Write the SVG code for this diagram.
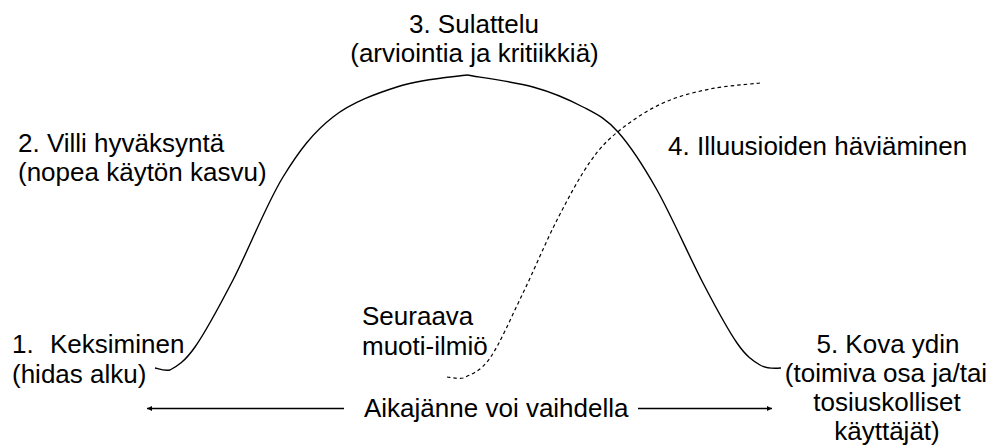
<svg xmlns="http://www.w3.org/2000/svg" width="993" height="447" viewBox="0 0 993 447">
<style>
text { font-family: "Liberation Sans", Arial, sans-serif; font-size: 26px; fill: #000; }
.c { text-anchor: middle; }
.curve { fill: none; stroke: #000; stroke-width: 1.4; }
.dash { fill: none; stroke: #000; stroke-width: 1.2; stroke-dasharray: 3.5 3; }
.arrow { stroke: #000; stroke-width: 1.4; fill: none; }
</style>
<defs>
<marker id="ah" viewBox="0 0 10 10" refX="10" refY="5" markerWidth="7" markerHeight="5" orient="auto-start-reverse" markerUnits="userSpaceOnUse">
<path d="M0,0 L10,5 L0,10 z" fill="#000"/>
</marker>
</defs>
<rect width="993" height="447" fill="#fff"/>
<g id="connectors">
<path id="hype-curve-rise" class="curve" d="M155,368 C157.5,368.3 163,371 170,370 C176.7,366.5 184.5,362 195,347 C205.5,332 218.3,308.3 233,280 C247.7,251.7 266.3,204.2 283,177 C299.7,149.8 313.5,132.2 333,117 C352.5,101.8 377.7,93 400,86 C422.3,79 455.8,76.8 467,75"/>
<path id="hype-curve-fall" class="curve" d="M467,75 C478,77 513.7,81.7 533,87 C552.3,92.3 568.8,99.5 583,107 C597.2,114.5 605.7,118.2 618,132 C630.3,145.8 642.8,164.8 657,190 C671.2,215.2 689.7,257.5 703,283 C716.3,308.5 727.5,329.3 737,343 C746.5,356.7 752.8,360.7 760,365 C767.2,369.3 776.7,368.3 781,368"/>
<path id="next-trend" class="dash" d="M447,377 C449.7,377.2 456,379 463,378 C470.2,374.8 480,372.2 490,358 C500,343.8 511.8,316 523,293 C534.2,270 545.8,241.8 557,220 C568.2,198.2 579.5,177 590,162 C600.5,147 607.8,139.8 620,130 C632.2,120.2 648,109.8 663,103 C678,96.2 693.8,92.3 710,89 C726.2,85.7 751.7,84 760,83"/>
<line class="arrow" x1="344" y1="408.5" x2="147" y2="408.5" marker-end="url(#ah)"/>
<line class="arrow" x1="638" y1="408.5" x2="772" y2="408.5" marker-end="url(#ah)"/>
</g>
<g id="stage1">
<text x="12" y="353">1.<tspan x="50">Keksiminen</tspan></text>
<text x="12" y="383">(hidas alku)</text>
</g>
<g id="stage2">
<text x="18" y="152">2. Villi hyväksyntä</text>
<text x="18" y="181">(nopea käytön kasvu)</text>
</g>
<g id="stage3">
<text class="c" x="474" y="33">3. Sulattelu</text>
<text class="c" x="474.5" y="62">(arviointia ja kritiikkiä)</text>
</g>
<g id="stage4">
<text x="668" y="155">4. Illuusioiden häviäminen</text>
</g>
<g id="stage5">
<text class="c" x="888" y="352.5">5. Kova ydin</text>
<text class="c" x="886" y="381.5">(toimiva osa ja/tai</text>
<text class="c" x="887" y="410.5">tosiuskolliset</text>
<text class="c" x="887" y="439.5">käyttäjät)</text>
</g>
<g id="next">
<text x="362" y="325">Seuraava</text>
<text x="362" y="355">muoti-ilmiö</text>
</g>
<g id="timespan">
<text x="364" y="417">Aikajänne voi vaihdella</text>
</g>
</svg>
